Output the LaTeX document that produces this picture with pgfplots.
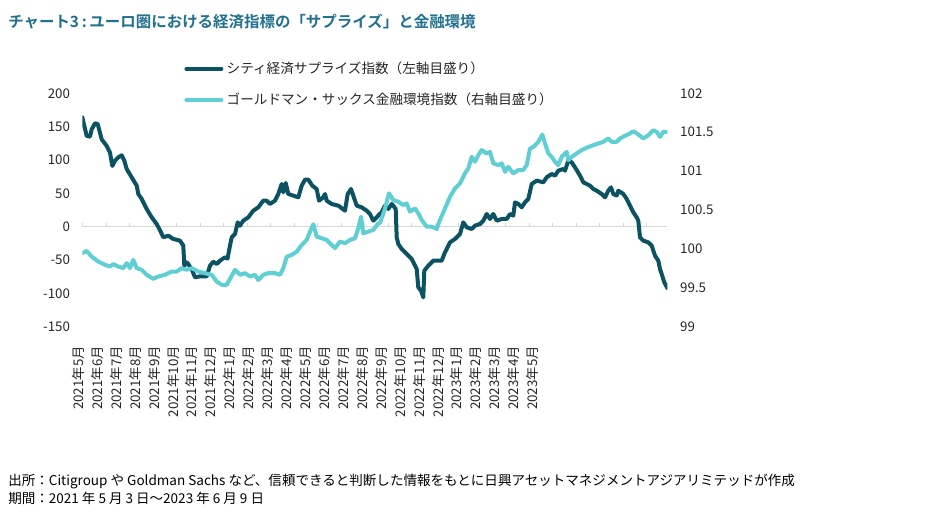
\documentclass[border=0pt]{standalone}
\usepackage{fontspec}
\setmainfont{Noto Sans CJK JP}[BoldFont={Noto Sans CJK JP Bold}]
\usepackage{pgfplots}
\pgfplotsset{compat=1.18}
\definecolor{citi}{RGB}{11,83,98}
\definecolor{gs}{RGB}{96,207,211}
\definecolor{titlec}{RGB}{33,112,143}
\definecolor{zeroc}{RGB}{217,217,217}
\definecolor{txt}{RGB}{38,38,38}

\pgfplotstableread{
x y
82.3 164
86.7 136
90 135
91.7 146
95 155
97.7 154
101.7 131
106.7 121
110 111
112.3 91
115 99
118.3 104
121.7 107
124.3 99
126.7 86.5
131.7 74
136.7 61.5
138.3 49
141.7 41.5
146.7 26.5
151.7 14
156.7 4
161 -8.5
163.3 -16
168.3 -13.5
173.3 -18.5
180 -21
183.3 -28.5
184.3 -58.5
186.7 -53.5
188.3 -56
192.3 -66
195 -76
200 -74.5
206.7 -74.5
210 -58.5
213.3 -52.5
216.7 -56
220 -51
225 -46
227.5 -48
230 -28.5
231.7 -16
235 -11
237.7 6.5
240 1.5
243.3 9
248.3 14
253.3 24
258.3 29
263.3 39
266.7 39
270 34
275 39
278.3 49
281.7 64
283.3 51.5
285.7 65.5
288.3 49
293.3 46.5
298.3 44
301.7 61.5
305 70.5
308.3 70.5
312.3 61.5
316.7 56.5
319 39
323.3 44
325 49
326.7 39
331.7 34
338.3 31.5
345 24
347.7 49
351 56.5
353.3 46.5
356.7 31.5
361.7 29
366.7 24
370 19
373.3 9
376.7 14
379 18
381.7 21.5
385 31.5
388.3 26.5
391.7 34
393.3 31.5
395.7 26.5
396.7 -16
398.3 -26
401.7 -33.5
406.7 -41
411.7 -48.5
416.7 -63.5
418.3 -91
421 -96
423.3 -106
424.3 -66
428.3 -58.5
433.3 -51
441.7 -51
445 -38.5
450 -23.5
455 -18.5
460 -11
463.3 6.5
466.7 -1
471.7 -3.5
475 1.5
480 4
483.3 9
486.7 19
490 11.5
493.3 19
496.7 9
501.7 11.5
506.7 11.5
510 19
513.3 16.5
515 36.5
518.3 34
521.7 29
525 36.5
528.3 41.5
531.7 64
536.7 69
543.3 66.5
546.7 74
551.7 79
555 76.5
558.3 84
563.3 86.5
565 84
568.3 99
571.7 96.5
575 89
580 76.5
583.3 66.5
586.7 64
590 61.5
593.3 56.5
596.7 54
601.7 49
605 44
608.3 54
611 59
613.3 49
616.7 46.5
618.3 54
623.3 49
626.7 41.5
630 31.5
633.3 21.5
636.7 14
638.3 9
640 -16
643.3 -21
648.3 -23.5
651.7 -28.5
655 -43.5
658.3 -51
660 -63.5
661.7 -71
664.3 -83.5
667.3 -92
}\citidata

\pgfplotstableread{
x y
82.3 99.945
86.7 99.974
91.7 99.90
98.3 99.837
105 99.795
110 99.773
113.3 99.804
118.3 99.773
123.3 99.752
126.7 99.817
130 99.752
133.3 99.859
136.7 99.752
141.7 99.731
146.7 99.667
153.3 99.615
158.3 99.645
165 99.667
171.7 99.709
176.7 99.709
181.7 99.752
186.7 99.731
191.7 99.752
198.3 99.709
205 99.688
211.7 99.667
216.7 99.58
221.7 99.538
226.7 99.538
235 99.731
240 99.667
245 99.688
250 99.645
255 99.667
258.3 99.60
263.3 99.667
268.3 99.688
275 99.688
280 99.667
283.3 99.752
286.7 99.90
291.7 99.923
296.7 99.965
301.7 100.05
306.7 100.115
310 100.22
313.3 100.317
316.7 100.158
321.7 100.137
326.7 100.115
331.7 100.05
335 100.01
340 100.094
345 100.073
350 100.115
355 100.137
358.3 100.265
361 100.414
363.3 100.2
368.3 100.222
373.3 100.244
378.3 100.33
380 100.33
385 100.52
389 100.714
393.3 100.628
398.3 100.606
403.3 100.564
406.7 100.585
410 100.478
415 100.52
418.3 100.457
421.7 100.372
426.7 100.286
431.7 100.286
436.7 100.256
440 100.372
445 100.52
450 100.67
455 100.778
460 100.842
465 100.97
468.3 101.035
471.7 101.183
475 101.12
478.3 101.205
481.7 101.27
486.7 101.227
490 101.247
493.3 101.1
498.3 101.077
501.7 101.1
505 100.99
508.3 101.055
513.3 100.97
518.3 101.013
523.3 101.013
526.7 101.077
530 101.29
533.3 101.31
538.3 101.376
542.3 101.47
545 101.355
548.3 101.227
551.7 101.183
555 101.12
558.3 101.077
561.7 101.183
566.7 101.247
568.3 101.14
571.7 101.183
576.7 101.227
581.7 101.27
588.3 101.31
593.3 101.333
598.3 101.355
603.3 101.376
608.3 101.42
611.7 101.376
616.7 101.376
620 101.42
625 101.453
630 101.483
633.3 101.513
638.3 101.47
643.3 101.42
648.3 101.46
653.3 101.525
656.7 101.504
660 101.44
663.3 101.504
667.3 101.504
}\gsdata

\begin{document}
\begin{tikzpicture}
\useasboundingbox (0pt,0pt) rectangle (696.75pt,392.25pt);
\pgfplotsset{
  base/.style={scale only axis, width=438.75pt, height=175.05pt,
    at={(61.725pt,147.225pt)}, anchor=south west,
    xmin=82.3, xmax=667.3,
    /pgf/number format/assume math mode=true,
    tick label style={font=\fontsize{10}{12}\selectfont, text=txt},
  }
}
% zero line with small ticks
\begin{axis}[base, ymin=-150, ymax=200,
  axis x line=middle, axis y line=none,
  axis line style={-, zeroc, line width=0.75pt},
  xtick={82.7,106.2,...,647}, xticklabels={},
  xtick style={zeroc, line width=0.75pt}, xtick align=inside, major tick length=3pt,
  ytick=\empty]
\end{axis}
% left axis: Citi
\begin{axis}[base, ymin=-150, ymax=200,
  axis y line*=left, axis x line=none,
  y axis line style={draw=none}, major tick length=0pt,
  ytick={-150,-100,...,200},
  yticklabel style={anchor=east, inner sep=0pt, xshift=-9pt}]
\addplot[citi, line width=3pt, line join=round, line cap=round] table {\citidata};
\end{axis}
% right axis: GS
\begin{axis}[base, ymin=99, ymax=102,
  axis y line*=right, axis x line=none,
  y axis line style={draw=none}, major tick length=0pt,
  ytick={99,99.5,...,102},
  yticklabel style={anchor=west, inner sep=0pt, xshift=9.5pt},
  legend cell align=left,
  legend image code/.code={\draw[#1, line width=3.5pt, line cap=round] (1.75pt,0pt) -- (27.5pt,0pt);},
  legend style={at={(axis description cs:0.1745,1.1355)}, anchor=north west,
    draw=none, fill=none, inner sep=0pt, outer sep=0pt, row sep=12.25pt, column sep=2.5pt,
    font=\fontsize{10.2}{12}\selectfont, text=txt,
    nodes={inner sep=0pt, text height=9.2pt, text depth=1.8pt}}]
\addlegendimage{citi}
\addlegendentry{シティ経済サプライズ指数（左軸目盛り）}
\addplot[gs, line width=3pt, line join=round, line cap=round] table {\gsdata};
\addlegendentry{ゴールドマン・サックス金融環境指数（右軸目盛り）}
\end{axis}
% month labels
\begin{axis}[scale only axis, width=696.75pt, height=10pt,
  at={(0pt,132.75pt)}, anchor=south west,
  xmin=0, xmax=929, ymin=0, ymax=1,
  hide y axis, axis x line*=bottom, x axis line style={draw=none},
  major tick length=0pt,
  xtick={78.3,97.23,116.16,135.09,154.02,172.95,191.88,210.81,229.74,248.67,267.6,286.53,305.46,324.39,343.32,362.25,381.18,400.11,419.04,437.97,456.9,475.83,494.76,513.69,532.62},
  xticklabels={2021年5月,2021年6月,2021年7月,2021年8月,2021年9月,2021年10月,2021年11月,2021年12月,2022年1月,2022年2月,2022年3月,2022年4月,2022年5月,2022年6月,2022年7月,2022年8月,2022年9月,2022年10月,2022年11月,2022年12月,2023年1月,2023年2月,2023年3月,2023年4月,2023年5月},
  xticklabel style={rotate=90, anchor=east, inner sep=0pt, font=\fontsize{10}{12}\selectfont, text=txt}]
\end{axis}
\node[anchor=west, inner sep=0pt, text=titlec, font=\fontsize{11.6}{14}\selectfont\bfseries] at (6pt,375.9pt) {チャート3\hspace{2pt}:\hspace{2pt}ユーロ圏における経済指標の「サプライズ」と金融環境};
\node[anchor=west, inner sep=0pt, font=\fontsize{10.15}{12}\selectfont] at (6pt,31pt) {出所：Citigroup や Goldman Sachs など、信頼できると判断した情報をもとに日興アセットマネジメントアジアリミテッドが作成};
\node[anchor=west, inner sep=0pt, font=\fontsize{10.15}{12}\selectfont] at (6pt,18.6pt) {期間：2021 年 5 月 3 日～2023 年 6 月 9 日};
\end{tikzpicture}
\end{document}
